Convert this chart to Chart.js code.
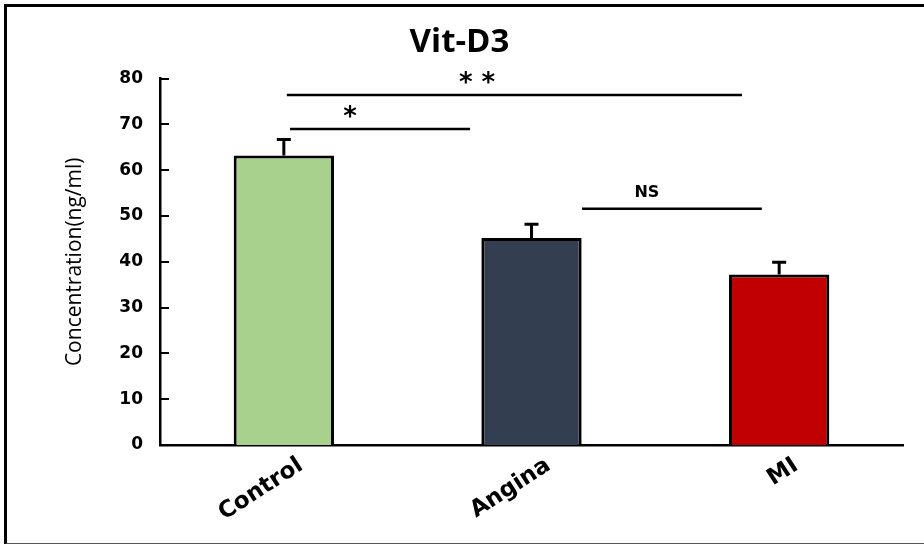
<!DOCTYPE html>
<html>
<head>
<meta charset="utf-8">
<script src="https://cdn.jsdelivr.net/npm/chart.js@4"></script>
<style>
  html, body { margin: 0; padding: 0; background: #fff; }
  #wrap { position: relative; width: 924px; height: 544px; }
  #frame { position: absolute; left: 4px; top: 4px; width: 930px; height: 536px;
           border-left: 3px solid #000; border-top: 3px solid #000; border-bottom: 2px solid #555;
           pointer-events: none; }
  canvas { position: absolute; left: 0; top: 0; }
</style>
</head>
<body>
<div id="wrap">
  <canvas id="c" width="924" height="544"></canvas>
  <div id="frame"></div>
</div>
<script>
// ---- data ----
const categories = ['Control', 'Angina', 'MI'];
const values = [63.2, 45.2, 37.2];
const errors = [3.5, 3.0, 2.7];
const barColors = ['#A9D18E', '#333F50', '#C00000'];
const yTicks = [0, 10, 20, 30, 40, 50, 60, 70, 80];
// significance brackets (x in category units, y in value units)
const sigLabels = ['*', '**', 'NS'];
const sigY = [69.0, 76.4, 51.6];
const sigXStart = [0.025, 0.012, 1.204];
const sigXEnd = [0.752, 1.850, 1.930];
const sigLabelX = [0.267, 0.780, 1.466];

const errorBarPlugin = {
  id: 'errorBars',
  afterDatasetsDraw(chart) {
    const ctx = chart.ctx;
    const meta = chart.getDatasetMeta(0);
    const y = chart.scales.y;
    ctx.save();
    ctx.strokeStyle = '#000';
    ctx.lineWidth = 3;
    meta.data.forEach((bar, i) => {
      const x = bar.x;
      const y0 = y.getPixelForValue(values[i]);
      const y1 = y.getPixelForValue(values[i] + errors[i]);
      ctx.beginPath();
      ctx.moveTo(x, y0); ctx.lineTo(x, y1);
      ctx.moveTo(x - 7, y1); ctx.lineTo(x + 7, y1);
      ctx.stroke();
    });
    ctx.restore();
  }
};

const innerTicksPlugin = {
  id: 'innerTicks',
  afterDraw(chart) {
    const ctx = chart.ctx;
    const y = chart.scales.y;
    const left = chart.chartArea.left;
    ctx.save();
    ctx.strokeStyle = '#000';
    ctx.lineWidth = 2;
    yTicks.forEach(v => {
      if (v === 0) return;
      const py = Math.round(y.getPixelForValue(v));
      ctx.beginPath();
      ctx.moveTo(left, py); ctx.lineTo(left + 9, py);
      ctx.stroke();
    });
    ctx.restore();
  }
};

const sigPlugin = {
  id: 'sig',
  afterDraw(chart) {
    const ctx = chart.ctx;
    const x = chart.scales.x, y = chart.scales.y;
    ctx.save();
    ctx.strokeStyle = '#000';
    ctx.fillStyle = '#000';
    ctx.lineWidth = 2.5;
    sigLabels.forEach((lab, i) => {
      const py = y.getPixelForValue(sigY[i]);
      ctx.beginPath();
      ctx.moveTo(x.getPixelForValue(sigXStart[i]), py);
      ctx.lineTo(x.getPixelForValue(sigXEnd[i]), py);
      ctx.stroke();
      const lx = x.getPixelForValue(sigLabelX[i]);
      ctx.textAlign = 'center';
      ctx.textBaseline = 'alphabetic';
      if (lab === 'NS') {
        ctx.font = 'bold 16px "DejaVu Sans"';
        ctx.fillText(lab, lx, py - 12);
      } else {
        ctx.font = 'bold 26px "DejaVu Sans"';
        ctx.fillText(lab.split('').join(' '), lx, py - 4);
      }
    });
    ctx.restore();
  }
};

new Chart(document.getElementById('c'), {
  type: 'bar',
  data: {
    labels: categories,
    datasets: [{
      data: values,
      backgroundColor: barColors,
      borderColor: '#000',
      borderWidth: 3,
      borderSkipped: 'bottom',
      categoryPercentage: 1.0,
      barPercentage: 0.405
    }]
  },
  options: {
    responsive: false,
    animation: false,
    devicePixelRatio: 1,
    layout: { padding: { left: 16, right: 21, top: 0, bottom: 0 } },
    plugins: {
      legend: { display: false },
      tooltip: { enabled: false },
      title: {
        display: true,
        text: 'Vit-D3',
        color: '#000',
        font: { family: '"Open Sans"', size: 33, weight: 'bold' },
        padding: { top: 23, bottom: 16 }
      }
    },
    scales: {
      x: {
        grid: { display: false, drawTicks: false },
        border: { display: true, color: '#000', width: 2.5 },
        ticks: {
          color: '#000',
          font: { family: '"DejaVu Sans"', size: 23, weight: 'bold' },
          minRotation: 33, maxRotation: 33,
          padding: 7,
          labelOffset: 17
        },
        afterFit(s) { s.height = 99; }
      },
      y: {
        min: 0, max: 80,
        grid: { display: false, drawTicks: false },
        border: { display: true, color: '#000', width: 2.5 },
        ticks: {
          stepSize: 10,
          color: '#000',
          font: { family: '"DejaVu Sans"', size: 17, weight: 'bold' },
          padding: 17
        },
        title: {
          display: true,
          text: 'Concentration(ng/ml)',
          color: '#000',
          font: { family: '"Open Sans"', size: 21 },
          padding: { top: 46, bottom: 0 }
        },
        afterFit(s) { s.width = 144; }
      }
    }
  },
  plugins: [errorBarPlugin, innerTicksPlugin, sigPlugin]
});
</script>
</body>
</html>
